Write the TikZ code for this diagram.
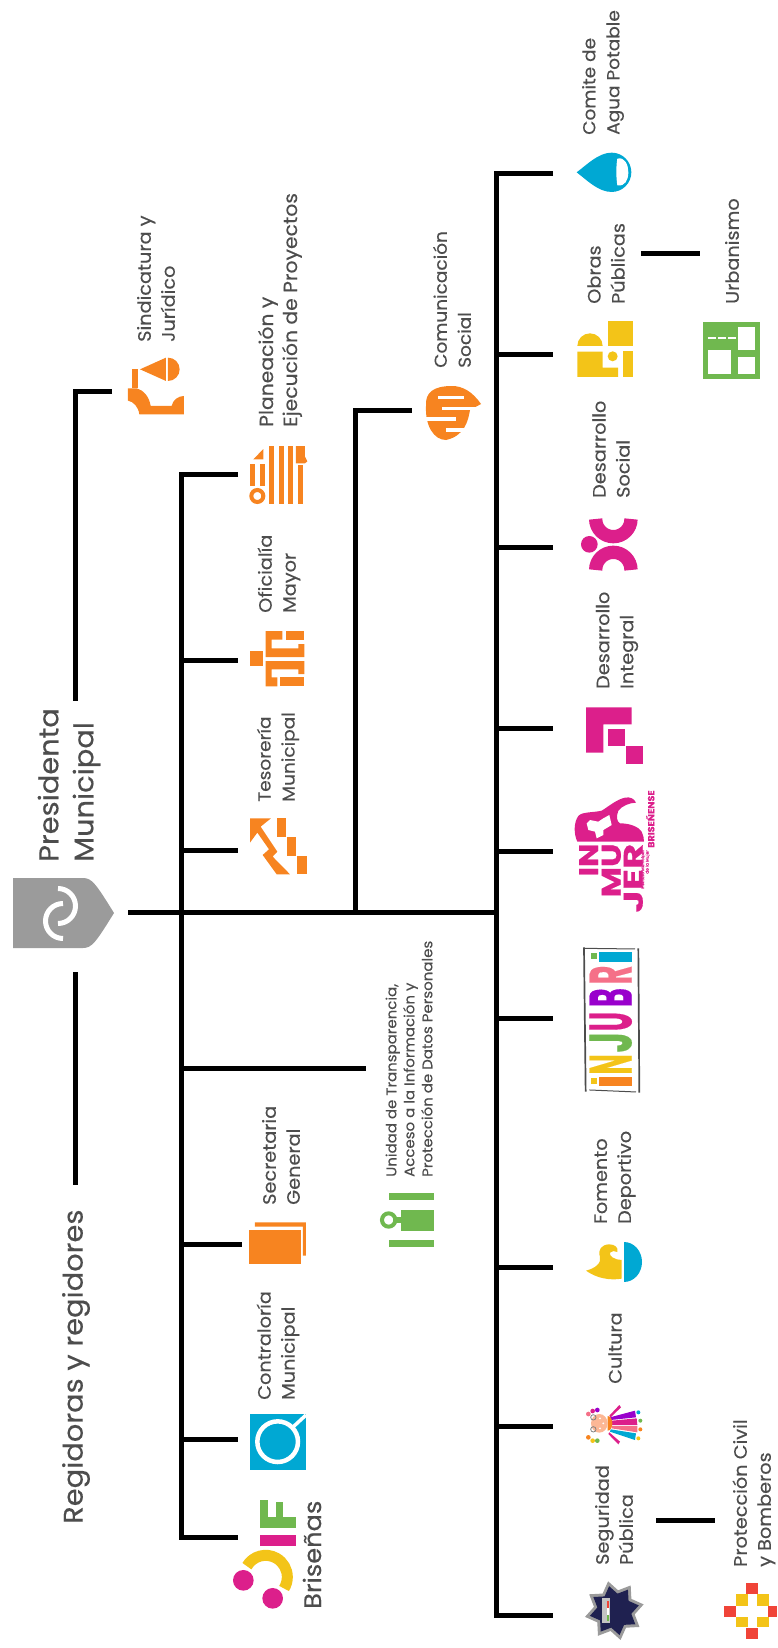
\documentclass[tikz,border=0pt]{standalone}
\usepackage{fontspec}
\setmainfont[FakeStretch=1.07,FakeBold=0.35]{Poppins}
\usetikzlibrary{shapes.geometric}
\definecolor{tangerine}{RGB}{247, 132, 32}
\definecolor{cerulean}{RGB}{0, 168, 211}
\definecolor{magenta1}{RGB}{220, 31, 139}
\definecolor{leaf}{RGB}{112, 184, 79}
\definecolor{sun}{RGB}{243, 196, 24}
\definecolor{slate}{RGB}{77, 77, 77}
\definecolor{shield}{RGB}{155, 155, 155}
\definecolor{violet1}{RGB}{153, 0, 204}
\definecolor{rose}{RGB}{245, 112, 136}
\definecolor{peach}{RGB}{252, 183, 149}
\definecolor{navy}{RGB}{31, 33, 80}
\definecolor{brick}{RGB}{240, 68, 56}
\tikzset{
  conn/.style={line width=5pt, black},
  lbl/.style={rotate=90, anchor=west, align=left, inner sep=0pt, text=slate, font=\fontsize{18}{24}\selectfont},
  slimlbl/.style={lbl, font=\fontsize{17.3}{24}\selectfont},
  biglbl/.style={lbl, font=\fontsize{27}{35}\selectfont},
  tinylbl/.style={lbl, font=\fontsize{14}{18}\selectfont},
  inj/.style={rotate=90, inner sep=0pt, font=\fontsize{60}{60}\selectfont\bfseries},
  mujer/.style={rotate=90, anchor=east, inner sep=0pt, text=magenta1, font=\fontsize{27}{27}\selectfont\bfseries}
}
\begin{document}
\begin{tikzpicture}[x=1pt,y=-1pt]
\useasboundingbox (0,0) rectangle (777,1648);
% labels
\node[biglbl] (presidenta) at (69,862) {Presidenta\\Municipal};
\node[biglbl] (regidores) at (76,1524) {Regidoras y regidores};
\node[lbl] (sindicatura) at (156,342) {Sindicatura y\\Jurídico};
\node[lbl, font=\fontsize{19}{24}\selectfont] (planeacion) at (280,427) {Planeación y\\Ejecución de Proyectos};
\node[lbl] (oficialia) at (279,613) {Oficialía\\Mayor};
\node[slimlbl] (tesoreria) at (278,802) {Tesorería\\Municipal};
\node[slimlbl] (comunicacion) at (452,368) {Comunicación\\Social};
\node[tinylbl] (unidad) at (409,1177) {Unidad de Transparencia,\\Acceso a la Información y\\Protección de Datos Personales};
\node[lbl] (secretaria) at (281,1205) {Secretaria\\General};
\node[lbl] (contraloria) at (278,1400) {Contraloría\\Municipal};
\node[lbl, font=\fontsize{24}{30}\selectfont] (brisenas) at (312,1609) {Briseñas};
\node[slimlbl] (comite) at (603,135) {Comite de\\Agua Potable};
\node[lbl] (obras) at (606,304) {Obras\\Públicas};
\node[lbl] (urbanismo) at (732,304) {Urbanismo};
\node[lbl] (dsocial) at (611,498) {Desarrollo\\Social};
\node[lbl] (dintegral) at (617,689) {Desarrollo\\Integral};
\node[lbl] (fomento) at (615,1224) {Fomento\\Deportivo};
\node[lbl] (cultura) at (615,1384) {Cultura};
\node[lbl] (seguridad) at (614,1565) {Seguridad\\Pública};
\node[lbl] (proteccion) at (754,1567) {Protección Civil\\y Bomberos};
% connector ends
\coordinate (mainstart) at (128,912);
\coordinate (mainend) at (498.5,912);
\coordinate (leftjoin) at (181.7,912);
\coordinate (comjoin) at (355.5,914.5);
\coordinate (sindend) at (112,391);
\coordinate (sindturn) at (75.5,391);
\coordinate (sinddrop) at (75.5,700.7);
\coordinate (regtop) at (75.5,972);
\coordinate (regend) at (75.5,1185);
\coordinate (planend) at (238,474);
\coordinate (plantop) at (181.7,474);
\coordinate (ofileft) at (181.7,660);
\coordinate (ofiend) at (238,660);
\coordinate (tesleft) at (181.7,850);
\coordinate (tesend) at (238,850);
\coordinate (uniteft) at (181.7,1068);
\coordinate (uniend) at (366,1068);
\coordinate (secleft) at (181.7,1244);
\coordinate (secend) at (242,1244);
\coordinate (conleft) at (181.7,1439);
\coordinate (conend) at (238,1439);
\coordinate (difleft) at (181.7,1537);
\coordinate (difend) at (238,1537);
\coordinate (comtop) at (355.5,410.5);
\coordinate (comend) at (412,410.5);
\coordinate (cometop) at (496,174);
\coordinate (comeend) at (553,174);
\coordinate (obrleft) at (496,354);
\coordinate (obrend) at (553,354);
\coordinate (socleft) at (496,547);
\coordinate (socend) at (553,547);
\coordinate (intleft) at (496,728);
\coordinate (intend) at (553,728);
\coordinate (mujleft) at (496,851);
\coordinate (mujend) at (553,851);
\coordinate (injleft) at (496,1018);
\coordinate (injend) at (553,1018);
\coordinate (fomleft) at (496,1267);
\coordinate (fomend) at (553,1267);
\coordinate (culleft) at (496,1426);
\coordinate (culend) at (553,1426);
\coordinate (segbottom) at (496,1615);
\coordinate (segend) at (553,1615);
\coordinate (urbstart) at (641,253.3);
\coordinate (urbend) at (700,253.3);
\coordinate (protstart) at (656,1520);
\coordinate (protend) at (715,1520);
% connectors
\draw[conn] (mainstart) -- (mainend);
\draw[conn] (sindend) -- (sindturn) -- (sinddrop);
\draw[conn] (regtop) -- (regend);
\draw[conn] (planend) -- (plantop) -- (difleft) -- (difend);
\draw[conn] (ofileft) -- (ofiend);
\draw[conn] (tesleft) -- (tesend);
\draw[conn] (uniteft) -- (uniend);
\draw[conn] (secleft) -- (secend);
\draw[conn] (conleft) -- (conend);
\draw[conn] (comjoin) -- (comtop) -- (comend);
\draw[conn] (comeend) -- (cometop) -- (segbottom) -- (segend);
\draw[conn] (obrleft) -- (obrend);
\draw[conn] (socleft) -- (socend);
\draw[conn] (intleft) -- (intend);
\draw[conn] (mujleft) -- (mujend);
\draw[conn] (injleft) -- (injend);
\draw[conn] (fomleft) -- (fomend);
\draw[conn] (culleft) -- (culend);
\draw[conn] (urbstart) -- (urbend);
\draw[conn] (protstart) -- (protend);
% presidenta
\fill[shield] (13,878) -- (83,878) .. controls (92,878) and (96,884) .. (114,913) .. controls (96,942) and (92,948) .. (83,948) -- (13,948) -- cycle;
\draw[white, line width=5pt] (58,888.5) arc (-90:90:17.5);
\draw[white, line width=5pt] (63,903.5) arc (-90:-270:17.5);
% sindicatura
\begin{scope}[shift={(100,180)},scale=.3333]
\fill[tangerine] (120,568) -- (198,533) -- (198,603) -- cycle;
\fill[tangerine] (204,533) arc (-90:90:35) -- cycle;
\fill[tangerine] (96,567) rectangle (114,625);
\fill[tangerine] (84,625) -- (110,625) .. controls (130,630) and (148,650) .. (152,678) -- (215,678) .. controls (218,660) and (235,648) .. (252,648) -- (252,703) -- (118,703) .. controls (115,680) and (100,665) .. (84,662) -- cycle;
\end{scope}
% planeacion
\begin{scope}[shift={(220,420)},scale=.3333]
\fill[tangerine] (147,78) rectangle (162,252);
\fill[tangerine] (177,78) rectangle (192,252);
\fill[tangerine] (205,78) rectangle (219,252);
\fill[tangerine] (234,135) rectangle (248,252);
\fill[tangerine] (228,78) -- (255,78) -- (255,110) -- (262,124) -- (255,130) -- (228,130) -- cycle;
\fill[tangerine] (100,118) -- (130,87) -- (130,118) -- cycle;
\fill[tangerine] (90,132) rectangle (105,198);
\fill[tangerine] (120,132) rectangle (135,198);
\draw[tangerine, line width=4pt] (112,228) circle (18);
\end{scope}
% oficialia
\begin{scope}[shift={(245,625)},scale=.3333]
\fill[tangerine] (14,78) rectangle (54,122);
\fill[tangerine] (62,18) -- (112,18) -- (112,44) -- (80,44) -- (80,70) -- (160,70) -- (160,57) -- (178,57) -- (178,96) -- (62,96) -- cycle;
\fill[tangerine] (122,18) rectangle (178,46);
\fill[tangerine] (62,108) -- (178,108) -- (178,147) -- (160,147) -- (160,133) -- (80,133) -- (80,157) -- (97,157) -- (97,184) -- (62,184) -- cycle;
\fill[tangerine] (105,157) rectangle (178,184);
\end{scope}
% tesoreria
\begin{scope}[shift={(220,420)},scale=.3333]
\fill[tangerine] (170,1195) rectangle (198,1250);
\fill[tangerine] (200,1250) rectangle (228,1307);
\fill[tangerine] (230,1307) rectangle (260,1363);
\fill[tangerine] (90,1195) -- (153,1195) -- (122,1220) -- (172,1295) -- (158,1310) -- (210,1363) -- (170,1363) -- (128,1305) -- (147,1288) -- (112,1238) -- (90,1268) -- cycle;
\end{scope}
% comunicacion
\begin{scope}[shift={(426,386)}]
\fill[tangerine] (0,20) .. controls (-1,6) and (8,0) .. (26,0) .. controls (36,0) and (46,5) .. (55,18) -- (44,24) .. controls (42,36) and (38,50) .. (20,54) .. controls (8,54) and (-1,40) .. (0,20) -- cycle;
\fill[white] (12,9.5) rectangle (38,13);
\fill[white] (16,20.5) rectangle (56,24);
\fill[white] (-1,31) rectangle (30,34.5);
\fill[white] (20,42) rectangle (46,45.5);
\end{scope}
% secretaria and unidad
\begin{scope}[shift={(200,1080)},scale=.3333]
\fill[tangerine] (165,427) -- (318,427) -- (318,527) -- (309,527) -- (309,440) -- (165,440) -- cycle;
\fill[tangerine] (147,451) rectangle (302,551);
\fill[leaf] (567,339) rectangle (703,360);
\fill[leaf] (567,481) rectangle (703,502);
\fill[leaf] (604,390) rectangle (703,452);
\fill[leaf] (585,410) rectangle (604,430);
\draw[leaf, line width=4pt] (566,420) circle (20);
\end{scope}
% contraloria and dif
\begin{scope}[shift={(210,1380)},scale=.3333]
\fill[cerulean] (120,102) rectangle (288,271);
\draw[white, line width=4.5pt] (203,185) circle (61);
\draw[white, line width=3.5pt] (248,142) -- (288,105);
\fill[leaf] (150,412) rectangle (258,444);
\fill[leaf] (150,360) rectangle (173,412);
\fill[leaf] (198,367) rectangle (220,412);
\fill[magenta1] (150,465) rectangle (258,497);
\draw[sun, line width=11pt] (167,591) ++(-150:65) arc (-150:32:65);
\fill[magenta1] (100,601) circle (31);
\fill[magenta1] (188,655) circle (31);
\end{scope}
% comite, obras and urbanismo
\begin{scope}[shift={(540,0)},scale=.3333]
\fill[cerulean] (110,517) .. controls (140,495) and (175,458) .. (215,458) arc (-90:90:59) .. controls (175,576) and (140,540) .. (110,517) -- cycle;
\fill[white] (232,476) .. controls (255,470) and (265,495) .. (265,517) .. controls (265,540) and (255,560) .. (232,556) .. controls (228,530) and (228,500) .. cycle;
\fill[sun] (204,963) rectangle (280,1038);
\fill[sun] (112,1038) arc (180:360:38) -- cycle;
\fill[sun] (112,1055) -- (188,1055) -- (188,1103) -- (234,1103) -- (234,1131) -- (112,1131) -- cycle;
\fill[sun] (250,1053) rectangle (280,1130);
\fill[sun] (218,1069) circle (15);
\fill[leaf] (489,966) rectangle (659,1136);
\fill[white] (595,981) rectangle (645,1051);
\fill[white] (595,1072) rectangle (645,1122);
\fill[white] (503,1051) rectangle (574,1122);
\fill[white] (503,1010) rectangle (528,1018);
\fill[white] (535,1010) rectangle (558,1018);
\fill[white] (563,1010) rectangle (588,1018);
\end{scope}
% desarrollo social and integral
\begin{scope}[shift={(560,390)},scale=.3333]
\draw[magenta1, line width=13.3pt] (213,387) arc (0:180:53);
\draw[magenta1, line width=13.3pt] (213,540) arc (0:-180:53);
\fill[magenta1] (88,463) circle (25);
\fill[magenta1] (78,952) -- (215,952) -- (215,1003) -- (130,1003) -- (130,1088) -- (78,1088) -- cycle;
\fill[magenta1] (145,1017) rectangle (196,1069);
\fill[magenta1] (197,1069) rectangle (248,1121);
\end{scope}
% inmujer
\begin{scope}[shift={(570,790)},scale=.3333]
\fill[magenta1] (22,155) .. controls (10,130) and (12,95) .. (25,78) .. controls (35,65) and (70,68) .. (95,62) .. controls (115,50) and (140,28) .. (165,23) .. controls (180,20) and (192,25) .. (198,38) .. controls (180,38) and (155,48) .. (145,62) .. controls (138,80) and (140,95) .. (150,100) .. controls (180,100) and (205,110) .. (215,125) .. controls (220,135) and (222,145) .. (222,155) -- cycle;
\fill[white] (50,100) -- (60,90) -- (85,95) -- (100,85) -- (118,75) -- (125,105) -- (100,120) -- (100,135) -- (80,145) -- (75,125) -- (55,120) -- cycle;
\node[mujer, xscale=1.08] (inword) at (56,160) {IN};
\node[mujer, xscale=1.15] (muword) at (124,160) {MU};
\node[mujer, xscale=1.35] (jerword) at (190,160) {JER};
\node[rotate=90, anchor=west, inner sep=0pt, text=magenta1, font=\fontsize{9}{9}\selectfont\bfseries] (brisword) at (241,174) {BRISEÑENSE};
\node[rotate=90, anchor=east, align=right, inner sep=0pt, text=magenta1, font=\fontsize{4}{4.5}\selectfont] (instword) at (226,180) {Instituto Municipal\\de la Mujer};
\end{scope}
% injubri
\begin{scope}[shift={(560,770)},scale=.3333]
\draw[slate, line width=1.7pt] (72,532) -- (77,965);
\draw[slate, line width=1.7pt] (235,535) -- (238,968);
\draw[slate, line width=1pt] (72,535) -- (225,537);
\draw[slate, line width=1pt] (88,960) -- (228,966);
\fill[tangerine] (118,920) rectangle (215,948);
\fill[sun] (92,925) rectangle (112,942);
\node[inj, text=sun, xscale=.42] (letn) at (152,883) {N};
\node[inj, text=leaf, xscale=.55] (letj) at (152,817) {J};
\node[inj, text=magenta1, xscale=.42] (letu) at (152,755) {U};
\node[inj, text=violet1, xscale=.45] (letb) at (152,683) {B};
\node[inj, text=rose, xscale=.45] (letr) at (152,615) {R};
\fill[cerulean] (118,547) rectangle (215,575);
\fill[leaf] (92,550) rectangle (112,567);
\end{scope}
% fomento
\begin{scope}[shift={(560,1120)},scale=.3333]
\fill[sun] (185,420) -- (185,476) .. controls (150,482) and (110,475) .. (78,452) .. controls (105,445) and (125,430) .. (120,410) .. controls (112,390) and (125,373) .. (148,373) .. controls (165,373) and (176,383) .. (172,396) .. controls (165,392) and (155,392) .. (150,398) .. controls (146,408) and (165,420) .. (185,420) -- cycle;
\fill[cerulean] (192,366) arc (-90:90:54 and 60) -- cycle;
% seguridad
\node[star, star points=8, star point ratio=1.45, minimum size=60pt, fill=shield, inner sep=0pt, rotate=12] (segstar) at (163,1472) {};
\node[star, star points=8, star point ratio=1.45, minimum size=50pt, fill=navy, inner sep=0pt, rotate=12] (seginner) at (163,1472) {};
\fill[shield!60] (125,1435) rectangle (150,1510);
\fill[navy] (150,1440) rectangle (200,1505);
\fill[brick] (142,1443) rectangle (147,1465);
\fill[white] (142,1465) rectangle (147,1485);
\fill[leaf] (142,1485) rectangle (147,1503);
% proteccion
\fill[brick] (558,1390) rectangle (594,1422);
\fill[sun] (528,1422) rectangle (564,1458);
\fill[sun] (591,1422) rectangle (627,1458);
\fill[brick] (492,1458) rectangle (528,1490);
\fill[brick] (624,1458) rectangle (651,1490);
\fill[sun] (528,1490) rectangle (564,1522);
\fill[sun] (591,1490) rectangle (627,1522);
\fill[brick] (558,1525) rectangle (594,1558);
\end{scope}
% cultura
\begin{scope}[shift={(580,1400)},scale=.3333]
\fill[violet1] (90,52) -- (165,32) -- (168,52) -- (92,60) -- cycle;
\fill[magenta1] (95,62) -- (170,55) -- (172,75) -- (95,75) -- cycle;
\fill[rose] (95,78) -- (172,78) -- (172,97) -- (95,85) -- cycle;
\fill[cerulean] (92,88) -- (168,100) -- (165,120) -- (90,95) -- cycle;
\fill[magenta1] (88,47) -- (118,15) -- (123,22) -- (92,52) -- cycle;
\fill[magenta1] (88,97) -- (120,125) -- (115,133) -- (85,102) -- cycle;
\fill[tangerine] (83,48) arc (-90:90:14 and 22) -- cycle;
\fill[peach] (58,70) ellipse (25 and 28);
\draw[slate!70, line width=.8pt] (40,52) circle (8);
\draw[slate!70, line width=.8pt] (40,88) circle (8);
\fill[white] (60,55) circle (3);
\fill[white] (70,70) circle (3);
\fill[white] (60,85) circle (3);
\fill[rose] (25,42) circle (7);
\fill[magenta1] (38,33) circle (7);
\fill[violet1] (52,30) circle (7);
\fill[tangerine] (25,112) circle (7);
\fill[sun] (38,122) circle (7);
\fill[leaf] (52,122) circle (7);
\fill[cerulean] (175,37) circle (6);
\fill[leaf] (181,62) circle (6);
\fill[tangerine] (181,88) circle (6);
\fill[sun] (175,115) circle (6);
\end{scope}
\end{tikzpicture}
\end{document}
